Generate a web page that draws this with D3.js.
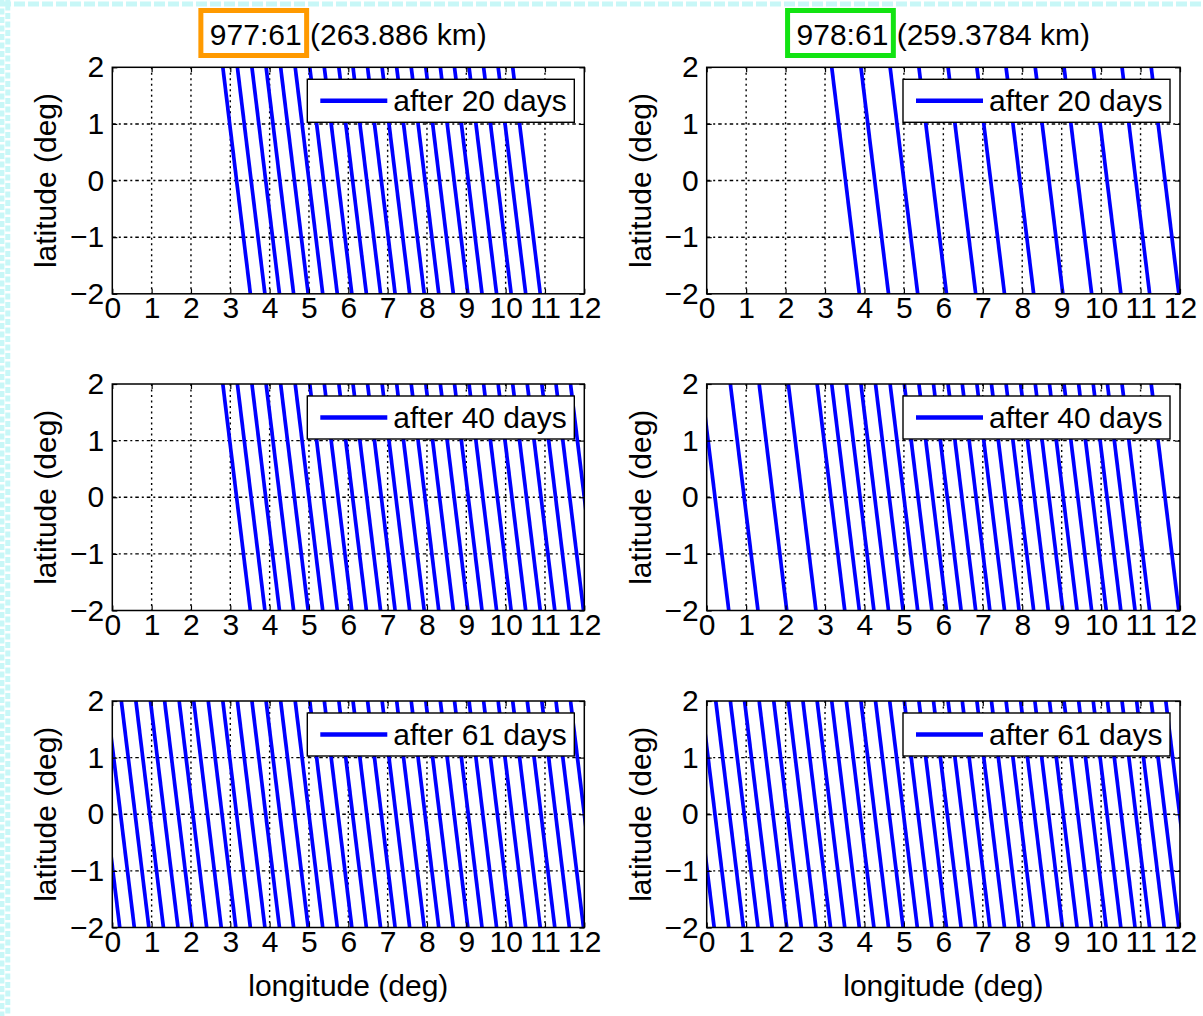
<!DOCTYPE html>
<html><head><meta charset="utf-8">
<script src="https://cdn.jsdelivr.net/npm/d3@7"></script>
<style>
html,body{margin:0;padding:0;background:#fff;}
svg{display:block;}
text{font-family:"Liberation Sans",Arial,Helvetica,sans-serif;fill:#000;}
</style>
</head><body>
<svg id="chart" width="1203" height="1016"></svg>
<script>
// ---------------- data ----------------
const repeatRatios = ["977:61", "978:61"];
const altitudes = ["(263.886 km)", "(259.3784 km)"];
const dayCounts = [20, 40, 61];
const lonTicks = [0,1,2,3,4,5,6,7,8,9,10,11,12];
const lonTickLabels = ["0","1","2","3","4","5","6","7","8","9","10","11","12"];
const latTicks = [-2,-1,0,1,2];
const latTickLabels = ["\u22122","\u22121","0","1","2"];
const xAxisTitle = "longitude (deg)";
const yAxisTitle = "latitude (deg)";
// longitude (deg) where each ground track crosses the equator
const tracks977_20 = [3.16,3.53,3.90,4.26,4.63,5.00,5.37,5.74,6.11,6.47,6.84,7.21,7.58,7.95,8.32,8.69,9.05,9.42,9.79,10.16,10.53];
const tracks977_40 = [3.16,3.53,3.90,4.26,4.63,5.00,5.37,5.74,6.11,6.47,6.84,7.21,7.58,7.95,8.32,8.69,9.05,9.42,9.79,10.16,10.53,10.90,11.27,11.63,12.00];
const tracks977_61 = [-0.16,0.21,0.58,0.95,1.32,1.68,2.05,2.42,2.79,3.16,3.53,3.90,4.26,4.63,5.00,5.37,5.74,6.11,6.47,6.84,7.21,7.58,7.95,8.32,8.69,9.05,9.42,9.79,10.16,10.53,10.90,11.27,11.63,12.00];
const tracks978_20 = [3.52,4.26,5.00,5.73,6.47,7.20,7.94,8.68,9.41,10.15,10.88,11.62];
const tracks978_40 = [0.21,0.95,1.68,2.42,3.15,3.52,3.89,4.26,4.63,5.00,5.36,5.73,6.10,6.47,6.83,7.20,7.57,7.94,8.31,8.68,9.04,9.41,9.78,10.15,10.51,10.88,11.62];
const tracks978_61 = [-0.16,0.21,0.58,0.95,1.31,1.68,2.05,2.42,2.79,3.15,3.52,3.89,4.26,4.63,4.99,5.36,5.73,6.10,6.47,6.83,7.20,7.57,7.94,8.31,8.67,9.04,9.41,9.78,10.15,10.51,10.88,11.25,11.62,11.99];
// longitude drift of a track between latitude +2 and -2 (deg)
const trackTilt = 0.70;

const panelTracks = [
  [tracks977_20, tracks977_40, tracks977_61],
  [tracks978_20, tracks978_40, tracks978_61]
];

// ---------------- layout ----------------
const W = 1203, H = 1016;
const colX = [112.3, 706.7], colW = [472, 473.3];
const rowY = [67.3, 384, 701], rowH = 226.5;
const FS = 30;
const boxColors = ["#ff9a00", "#12e312"];

const svg = d3.select("#chart");
svg.append("rect").attr("width", W).attr("height", H).attr("fill", "#fff");

// decorative cyan frame (top and left)
const cyan = "#c8f7f7";
svg.append("line").attr("x1", 0).attr("x2", W).attr("y1", 4).attr("y2", 4)
  .attr("stroke", cyan).attr("stroke-width", 5).attr("stroke-dasharray", "11,3");
svg.append("line").attr("x1", 2.2).attr("x2", 2.2).attr("y1", 0).attr("y2", H)
  .attr("stroke", cyan).attr("stroke-width", 4.4).attr("stroke-dasharray", "6,2.5");
svg.append("line").attr("x1", 7.8).attr("x2", 7.8).attr("y1", 0).attr("y2", H)
  .attr("stroke", cyan).attr("stroke-width", 5).attr("stroke-dasharray", "6,2.5").attr("stroke-dashoffset", 4);

const defs = svg.append("defs");

for (let c = 0; c < 2; c++) {
  for (let r = 0; r < 3; r++) {
    const x0 = colX[c], w = colW[c], y0 = rowY[r], h = rowH;
    const x = d3.scaleLinear().domain([0, 12]).range([x0, x0 + w]);
    const y = d3.scaleLinear().domain([-2, 2]).range([y0 + h, y0]);
    const g = svg.append("g");
    const clipId = `clip-${c}-${r}`;
    defs.append("clipPath").attr("id", clipId).append("rect")
      .attr("x", x0).attr("y", y0).attr("width", w).attr("height", h);

    g.append("rect").attr("x", x0).attr("y", y0).attr("width", w).attr("height", h).attr("fill", "#fff");

    // grid
    g.append("g").selectAll("line").data(lonTicks.slice(1, -1)).join("line")
      .attr("x1", d => x(d)).attr("x2", d => x(d)).attr("y1", y0).attr("y2", y0 + h)
      .attr("stroke", "#000").attr("stroke-width", 1.4).attr("stroke-dasharray", "2,3.5");
    g.append("g").selectAll("line").data(latTicks.slice(1, -1)).join("line")
      .attr("x1", x0).attr("x2", x0 + w).attr("y1", d => y(d)).attr("y2", d => y(d))
      .attr("stroke", "#000").attr("stroke-width", 1.4).attr("stroke-dasharray", "3.5,3,2,3");

    // ground tracks
    const line = d3.line().x(d => x(d[0])).y(d => y(d[1]));
    g.append("g").attr("clip-path", `url(#${clipId})`)
      .selectAll("path").data(panelTracks[c][r]).join("path")
      .attr("d", X => line([[X + trackTilt / 2, -2], [X - trackTilt / 2, 2]]))
      .attr("fill", "none").attr("stroke", "#0000ff").attr("stroke-width", 3.7);

    // axes (ticks inward)
    const styleAxis = sel => {
      sel.select(".domain").remove();
      sel.selectAll(".tick line").attr("stroke", "#000").attr("stroke-width", 1.2);
      sel.selectAll("text").attr("font-size", FS).attr("font-family", "Liberation Sans, Arial, sans-serif").attr("fill", "#000");
      sel.attr("font-size", null).attr("font-family", null);
    };
    g.append("g").attr("transform", `translate(0,${y0 + h})`)
      .call(d3.axisBottom(x).tickValues(lonTicks).tickSizeInner(-5).tickSizeOuter(0).tickPadding(3)
        .tickFormat((d, i) => lonTickLabels[i])).call(styleAxis);
    g.append("g").attr("transform", `translate(0,${y0})`)
      .call(d3.axisTop(x).tickValues(lonTicks).tickSizeInner(-5).tickSizeOuter(0).tickFormat(""))
      .call(styleAxis);
    g.append("g").attr("transform", `translate(${x0},0)`)
      .call(d3.axisLeft(y).tickValues(latTicks).tickSizeInner(-5).tickSizeOuter(0).tickPadding(8)
        .tickFormat((d, i) => latTickLabels[i])).call(styleAxis);
    g.append("g").attr("transform", `translate(${x0 + w},0)`)
      .call(d3.axisRight(y).tickValues(latTicks).tickSizeInner(-5).tickSizeOuter(0).tickFormat(""))
      .call(styleAxis);

    // border
    g.append("rect").attr("x", x0).attr("y", y0).attr("width", w).attr("height", h)
      .attr("fill", "none").attr("stroke", "#000").attr("stroke-width", 1.5);

    // legend
    const lw = 267, lh = 43;
    const lx = x0 + w - 10 - lw, ly = y0 + 12;
    g.append("rect").attr("x", lx).attr("y", ly).attr("width", lw).attr("height", lh)
      .attr("fill", "#fff").attr("stroke", "#000").attr("stroke-width", 1.4);
    g.append("line").attr("x1", lx + 13).attr("x2", lx + 80).attr("y1", ly + lh / 2).attr("y2", ly + lh / 2)
      .attr("stroke", "#0000ff").attr("stroke-width", 4.5);
    g.append("text").attr("x", lx + 86).attr("y", ly + lh / 2 + 10.5)
      .attr("font-size", FS).text(`after ${dayCounts[r]} days`);

    // y axis title
    g.append("text").attr("transform", `translate(${x0 - 56},${y0 + h / 2}) rotate(-90)`)
      .attr("text-anchor", "middle").attr("font-size", FS).text(yAxisTitle);

    if (r === 2) {
      g.append("text").attr("x", x0 + w / 2).attr("y", 996).attr("text-anchor", "middle")
        .attr("font-size", FS).text(xAxisTitle);
    }
    if (r === 0) {
      const t = svg.append("text").attr("x", x0 + w / 2).attr("y", 45)
        .attr("text-anchor", "middle").attr("font-size", FS);
      t.append("tspan").text(repeatRatios[c]);
      t.append("tspan").text(" " + altitudes[c]);
      const node = t.node();
      const total = node.getComputedTextLength();
      const w6 = node.getSubStringLength(0, repeatRatios[c].length);
      const start = x0 + w / 2 - total / 2;
      svg.append("rect").attr("x", start - 9).attr("y", 10.5).attr("width", w6 + 14).attr("height", 45)
        .attr("fill", "none").attr("stroke", boxColors[c]).attr("stroke-width", 5);
    }
  }
}
</script>
</body></html>
